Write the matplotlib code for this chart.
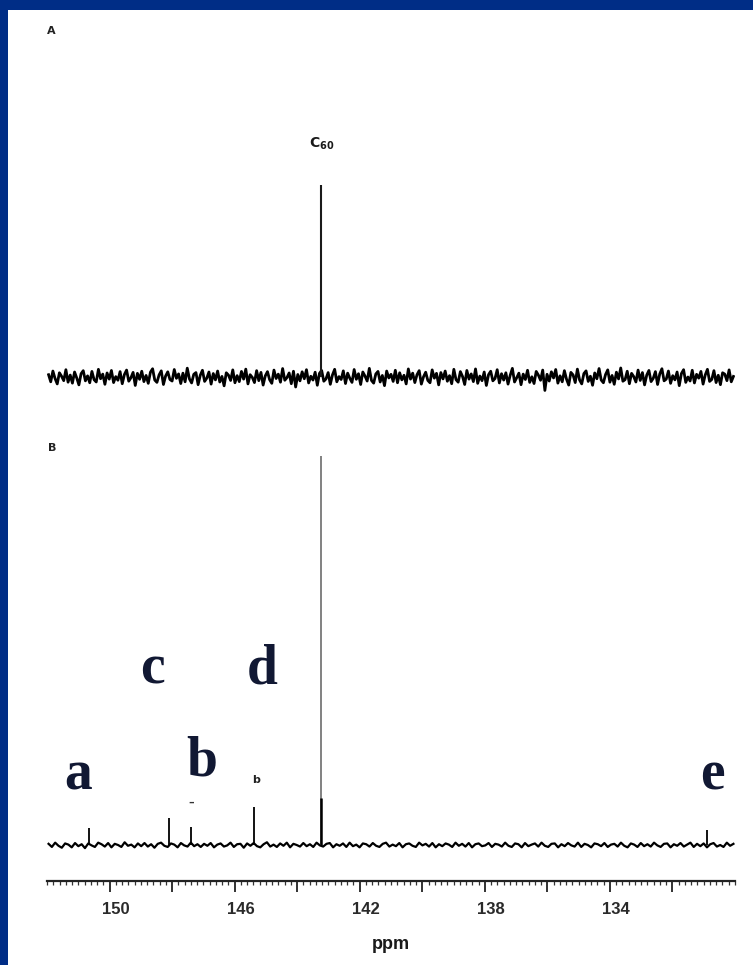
import numpy as np
import matplotlib
matplotlib.use("Agg")
import matplotlib.pyplot as plt
from matplotlib.patches import Rectangle
from matplotlib.ticker import FixedLocator, MultipleLocator, FixedFormatter
import matplotlib.transforms as mtransforms

# ---------------- data ----------------
# Panel A: single C60 line
peak_a_ppm = [143.24]
peak_a_height = [100.0]
# Panel B: lines (relative intensity, main line = 100)
peak_b_ppm = [150.67, 148.10, 147.41, 145.37, 143.24, 130.88]
peak_b_height = [4.4, 6.9, 4.6, 9.8, 100.0, 3.9]
# baseline noise read (roughly) from the traces, relative intensity units
noise_a = [1.2, -2.5, 3.1, -0.8, -3.6, 2.2, 0.4, -1.9, 3.8, -2.7, 1.0, -3.2, 2.6, -0.5, -4.1, 1.7,
           3.3, -2.0, 0.6, -3.0, 2.9, -1.4, -2.6, 4.0, -0.9, 1.5, -3.8, 2.1, -1.1, 3.4, -2.9, 0.2,
           -1.7, 2.8, -3.5, 1.3, 3.6, -2.2, -0.4, 2.4, -4.4, 1.9, -1.2, 3.0, -2.4, 0.8, -3.3, 2.5,
           4.3, -1.6, -2.8, 1.1, 3.2, -3.9, 0.5, 2.7, -1.3, -2.1, 3.9, -0.7, 1.6, -3.4, 2.0, -2.5,
           4.6, -1.0, -3.1, 1.4, 2.3, -4.0, 0.9, 3.5, -2.3, -0.6, 2.6, -3.7, 1.8, -1.5, 3.1, -2.6,
           0.3, -4.6, 2.2, 1.0, -1.8, 3.7, -3.0, 0.7, -2.4, 2.9, -1.1, 4.1, -3.6, 1.2, -0.2, -2.9,
           3.3, -1.9, 2.4, -4.2, 0.6, 2.8, -1.4, -3.3, 3.6, -0.8, 1.5, -2.7, 4.4, -1.7, -0.3, 2.1,
           -3.5, 3.0, -5.2, 1.3, -2.0, 2.7, -0.9, 3.8, -3.1, 0.4, -1.6, 2.5, -4.3, 1.9, 3.4, -2.2,
           -1.0, 2.3, -3.8, 1.1, 4.0, -2.5, 0.2, -1.3, 3.2, -3.4, 2.0, -0.7, -2.8, 3.9, -1.2, 1.7,
           -3.9, 2.6, 0.5, -2.1, 4.5, -1.8, -3.2, 1.6, 2.9, -2.6, 0.8, -4.5, 3.1, -0.5, 1.4, -2.3,
           3.5, -3.0, 2.2, -1.5, 0.9, -3.6, 4.2, -1.1, 2.0, -2.9, 1.2, 3.3, -3.7, 0.1, 2.5, -1.8,
           -3.0, 3.7, -0.6, 1.9, -4.1, 2.3, -1.0, 3.1, -2.2, 0.7, -3.5, 4.0, -1.4, -2.7, 2.8, 0.3,
           -3.9, 3.4, -1.1, 1.6, -2.4, 4.2, -3.3, 0.5, -1.9, 2.6, -4.4, 1.2, 3.0, -2.0, -0.8, 3.8,
           -3.1, 1.7, -1.6, 2.2, -3.7, 0.9, 4.5, -2.6, -0.4, 2.0, -4.0, 1.5, -1.3, 3.5, -2.8, 0.1,
           -3.4, 2.9, 1.0, -1.7, 3.6, -7.0, 1.4, -2.1, 2.7, -0.5, 3.9, -3.2, 0.6, -2.5, 3.3, -1.2,
           -4.2, 2.4, 1.1, -2.9, 4.1, -1.5, -3.6, 1.8, 3.2, -2.3, 0.4, -4.3, 2.1, -0.9, 4.4, -1.6,
           -3.0, 1.3, 3.7, -2.7, 0.8, -3.8, 2.5, -1.0, 4.7, -2.2, -1.4, 3.0, -3.5, 1.9, 0.2, -2.6,
           3.6, -1.8, 2.3, -4.1, 1.0, 3.4, -2.4, -0.7, 2.8, -3.9, 1.6, 4.3, -2.0, -1.1, 3.1, -3.3,
           0.7, -1.5, 2.6, -4.5, 1.8, 3.8, -2.8, 0.0, -2.1, 3.5, -3.1, 1.4, -0.6, 2.9, -3.7, 1.1,
           4.0, -2.3, -1.3, 3.3, -2.9, 0.9, -4.0, 2.2, 1.5, -1.9, 3.7, -2.5, 0.3]
noise_b = [0.3, -0.5, 0.6, -0.2, -0.7, 0.4, 0.1, -0.6, 0.5, -0.3, 0.2, -0.8, 0.4, -0.1, -0.5, 0.6,
           0.2, -0.4, 0.5, -0.6, 0.3, 0.0, -0.5, 0.7, -0.2, 0.1, -0.6, 0.4, -0.3, 0.5, -0.4, 0.2,
           -0.7, 0.3, 0.6, -0.2, -0.5, 0.4, 0.1, -0.6, 0.5, -0.1, -0.4, 0.6, -0.3, 0.2, -0.5, 0.3,
           -0.2, 0.5, -0.6, 0.1, 0.4, -0.4, -0.1, 0.6, -0.5, 0.2, 0.3, -0.7, 0.4, -0.2, 0.5, -0.3,
           -0.6, 0.2, 0.7, -0.4, 0.1, -0.5, 0.4, -0.2, 0.6, -0.6, 0.3, 0.0, -0.4, 0.5, -0.3, 0.2,
           -0.5, 0.6, -0.1, -0.4, 0.3, 0.5, -0.6, 0.2, -0.2, 0.4, -0.5, 0.6, -0.3, 0.1, -0.6, 0.4,
           0.2, -0.4, 0.5, -0.2, -0.5, 0.3, 0.6, -0.4, 0.1, -0.3, 0.5, -0.6, 0.2, 0.4, -0.2, -0.5,
           0.6, -0.1, 0.3, -0.4, 0.5, -0.6, 0.2, -0.3, 0.4, 0.1, -0.5, 0.6, -0.2, 0.3, -0.4, 0.5,
           -0.6, 0.2, 0.4, -0.3, -0.1, 0.5, -0.5, 0.3, 0.1, -0.4, 0.6, -0.2, -0.5, 0.4, 0.2, -0.6,
           0.5, -0.3, 0.1, 0.4, -0.4, 0.6, -0.2, -0.5, 0.3, 0.4, -0.6, 0.2, -0.3, 0.5, -0.1, -0.4,
           0.6, -0.5, 0.3, 0.0, -0.6, 0.4, 0.2, -0.3, 0.5, -0.5, 0.1, 0.3, -0.4, 0.6, -0.2, -0.6,
           0.4, 0.1, -0.5, 0.5, -0.3, 0.2, -0.4, 0.6, -0.1, -0.5, 0.3, 0.4, -0.6, 0.2, -0.2, 0.5,
           -0.4, 0.1, 0.6, -0.5, 0.3, -0.3, 0.4, -0.6, 0.2, 0.5, -0.4, 0.0, -0.5, 0.6, -0.2, 0.3]
tick_major = [150, 148, 146, 144, 142, 140, 138, 136, 134, 132]
tick_labels = ["150", "", "146", "", "142", "", "138", "", "134", ""]
ppm_range = (152.0, 130.0)
peak_letters = ["a", "b", "c", "d", "e"]

# ---------------- figure ----------------
W, H = 753, 965
fig = plt.figure(figsize=(W / 100, H / 100), dpi=100, facecolor="#002d86")
fig.patches.append(Rectangle((8 / W, 0), 1, 1 - 10 / H, transform=fig.transFigure,
                             facecolor="white", edgecolor="none", zorder=-5))

def px_axes(x0, y_top, x1, y_bot):
    a = fig.add_axes([x0 / W, 1 - y_bot / H, (x1 - x0) / W, (y_bot - y_top) / H])
    a.set_zorder(2)
    return a

x_left, x_right = 47, 735

# Panel A
ax_a = px_axes(x_left, 140, x_right, 400)
ax_a.set_facecolor("none")
ax_a.set_xlim(*ppm_range)
ax_a.set_ylim(-23 / 1.92, 237 / 1.92)
xa = np.linspace(ppm_range[0] - 0.05, ppm_range[1] + 0.05, len(noise_a))
ax_a.plot(xa, noise_a, color="black", lw=2.0, solid_joinstyle="round")
ax_a.vlines(peak_a_ppm, 0, peak_a_height, color="#1a1a1a", lw=1.5)
ax_a.axis("off")

# Panel B
ax_b = px_axes(x_left, 440, x_right, 881)
ax_b.set_facecolor("none")
ax_b.set_xlim(*ppm_range)
ax_b.set_ylim(-36 / 3.89, 405 / 3.89)
xb = np.linspace(ppm_range[0] - 0.05, ppm_range[1] + 0.05, len(noise_b))
ax_b.plot(xb, noise_b, color="black", lw=1.6, solid_joinstyle="round")
for p, h in zip(peak_b_ppm, peak_b_height):
    col = "#777777" if h > 50 else "black"
    ax_b.vlines(p, 0, h, color=col, lw=1.3, clip_on=False)
ax_b.vlines(peak_b_ppm[4], 0, 12, color="black", lw=1.8)

for s in ["top", "left", "right"]:
    ax_b.spines[s].set_visible(False)
ax_b.spines["bottom"].set_linewidth(1.6)
ax_b.spines["bottom"].set_color("#222222")
ax_b.set_yticks([])
ax_b.xaxis.set_major_locator(FixedLocator(tick_major))
ax_b.xaxis.set_major_formatter(FixedFormatter(tick_labels))
ax_b.xaxis.set_minor_locator(MultipleLocator(0.2))
ax_b.tick_params(axis="x", which="major", length=8, width=1.3, color="#222222",
                 labelsize=12, labelcolor="#2a2a2a", pad=7)
ax_b.tick_params(axis="x", which="minor", length=3, width=0.9, color="#333333")
offset = mtransforms.ScaledTranslation(6 / 100, 0, fig.dpi_scale_trans)
for lab in ax_b.get_xticklabels():
    lab.set_transform(lab.get_transform() + offset)
    lab.set_family("Liberation Sans")
    lab.set_fontweight("bold")
ax_b.set_xlabel("ppm", fontsize=13, fontweight="bold", family="Liberation Sans",
                color="#1a1a1a", labelpad=14)

# Panel labels and annotations
def ftext(x, y, s, **kw):
    fig.text(x / W, 1 - y / H, s, **kw)

ftext(51, 31, "A", fontsize=8, fontweight="bold", ha="center", va="center", color="#222222")
ftext(52, 448, "B", fontsize=8, fontweight="bold", ha="center", va="center", color="#222222")
ftext(322, 144, r"C$_{\mathbf{60}}$", fontsize=10, fontweight="bold", ha="center", va="center",
      color="#1a1a1a")
ftext(256, 780, "b", fontsize=8, fontweight="bold", ha="center", va="center", color="#222222")
ftext(191, 803, "\u2013", fontsize=8, fontweight="bold", ha="center", va="center", color="#333333")

letter_pos = {"a": (78, 790), "b": (202, 775), "c": (152, 683), "d": (262, 683), "e": (712, 790)}
for L in peak_letters:
    x, y = letter_pos[L]
    ftext(x, y, L, fontsize=40, fontweight="bold", family="Liberation Serif",
          ha="center", va="baseline", color="#111833")

fig.savefig("out.png", dpi=100, facecolor=fig.get_facecolor())
